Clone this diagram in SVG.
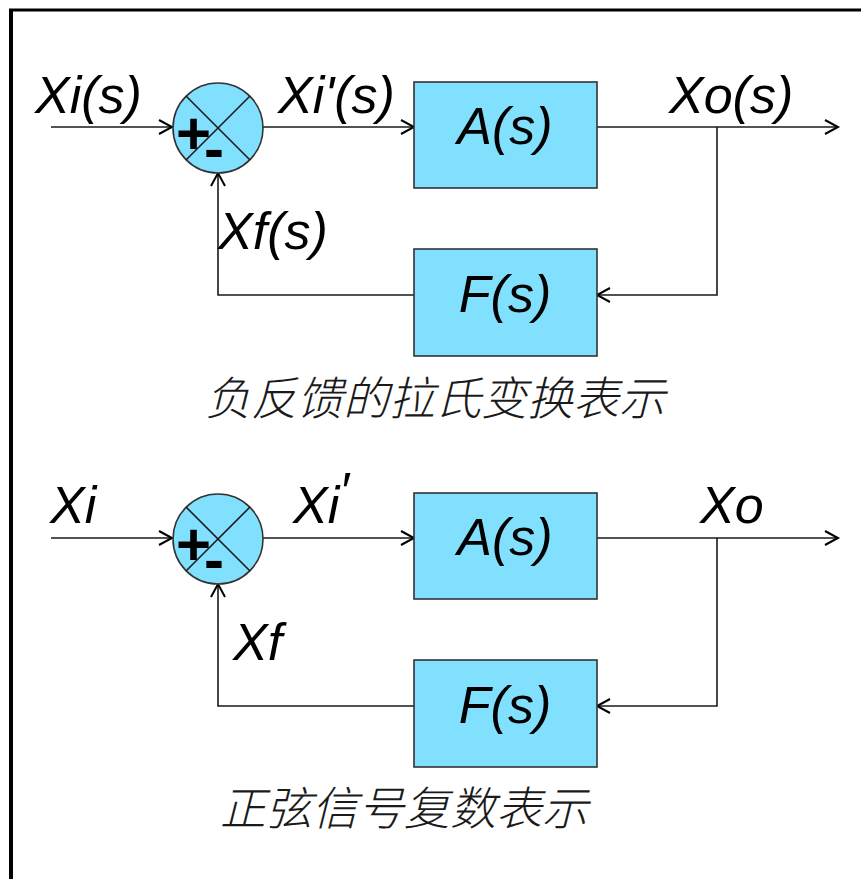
<svg xmlns="http://www.w3.org/2000/svg" width="861" height="879" viewBox="0 0 861 879">
<defs>
<style>
.ln{fill:none;stroke:#1a1a1a;stroke-width:1.6}
.box{fill:#82E0FF;stroke:#333;stroke-width:1.6}
.lbl{font-family:"Liberation Sans",Arial,sans-serif;font-style:italic;font-size:52px;fill:#000}
.sgn{font-family:"Liberation Sans",Arial,sans-serif;font-weight:bold;font-size:60px;fill:#000}
.cap{font-family:"Liberation Serif","Noto Sans CJK SC",serif;font-style:italic;font-size:46px;fill:#1a1a1a;font-weight:300}
</style>
<marker id="arr" markerUnits="userSpaceOnUse" markerWidth="18" markerHeight="18" refX="14" refY="8" orient="auto">
<path d="M1,1 L14,8 L1,15" fill="none" stroke="#000" stroke-width="2"/>
</marker>
</defs>
<rect width="861" height="879" fill="#fff"/>
<g id="frame">
<line x1="11" y1="9" x2="11" y2="879" stroke="#000" stroke-width="4"/>
<line x1="9" y1="10" x2="861" y2="10" stroke="#000" stroke-width="3"/>
</g>
<g id="connectors">
<line class="ln" x1="51" y1="127" x2="172" y2="127" marker-end="url(#arr)"/>
<line class="ln" x1="263" y1="127" x2="414" y2="127" marker-end="url(#arr)"/>
<line class="ln" x1="597" y1="127" x2="838" y2="127" marker-end="url(#arr)"/>
<polyline class="ln" points="717,127 717,295 597,295" marker-end="url(#arr)"/>
<polyline class="ln" points="414,295 218,295 218,173" marker-end="url(#arr)"/>
<line class="ln" x1="51" y1="538" x2="172" y2="538" marker-end="url(#arr)"/>
<line class="ln" x1="263" y1="538" x2="414" y2="538" marker-end="url(#arr)"/>
<line class="ln" x1="597" y1="538" x2="838" y2="538" marker-end="url(#arr)"/>
<polyline class="ln" points="717,538 717,706 597,706" marker-end="url(#arr)"/>
<polyline class="ln" points="414,706 218,706 218,584" marker-end="url(#arr)"/>
</g>
<g id="sum1">
<circle class="box" cx="218" cy="128" r="45"/>
<line class="ln" x1="186" y1="96" x2="250" y2="160" stroke-width="1.2"/>
<line class="ln" x1="250" y1="96" x2="186" y2="160" stroke-width="1.2"/>
<text class="sgn" x="176" y="154">+<tspan dx="-7" dy="15">-</tspan></text>
</g>
<g id="A1">
<rect class="box" x="414" y="82" width="183" height="106"/>
<text class="lbl" x="505" y="144" text-anchor="middle">A(s)</text>
</g>
<g id="F1">
<rect class="box" x="414" y="249" width="183" height="107"/>
<text class="lbl" x="505" y="312" text-anchor="middle">F(s)</text>
</g>
<g id="sum2">
<circle class="box" cx="218" cy="539" r="45"/>
<line class="ln" x1="186" y1="507" x2="250" y2="571" stroke-width="1.2"/>
<line class="ln" x1="250" y1="507" x2="186" y2="571" stroke-width="1.2"/>
<text class="sgn" x="176" y="565">+<tspan dx="-7" dy="15">-</tspan></text>
</g>
<g id="A2">
<rect class="box" x="414" y="493" width="183" height="106"/>
<text class="lbl" x="505" y="555" text-anchor="middle">A(s)</text>
</g>
<g id="F2">
<rect class="box" x="414" y="660" width="183" height="107"/>
<text class="lbl" x="505" y="723" text-anchor="middle">F(s)</text>
</g>
<g id="labels">
<text class="lbl" x="35" y="113">Xi(s)</text>
<text class="lbl" x="278" y="113">Xi'(s)</text>
<text class="lbl" x="669" y="113">Xo(s)</text>
<text class="lbl" x="218" y="249">Xf(s)</text>
<text class="lbl" x="50" y="523">Xi</text>
<text class="lbl" x="293" y="523">Xi<tspan dy="-14">′</tspan></text>
<text class="lbl" x="700" y="523">Xo</text>
<text class="lbl" x="233" y="660">Xf</text>
<text class="cap" x="205" y="415">负反馈的拉氏变换表示</text>
<text class="cap" x="220" y="825">正弦信号复数表示</text>
</g>
</svg>
